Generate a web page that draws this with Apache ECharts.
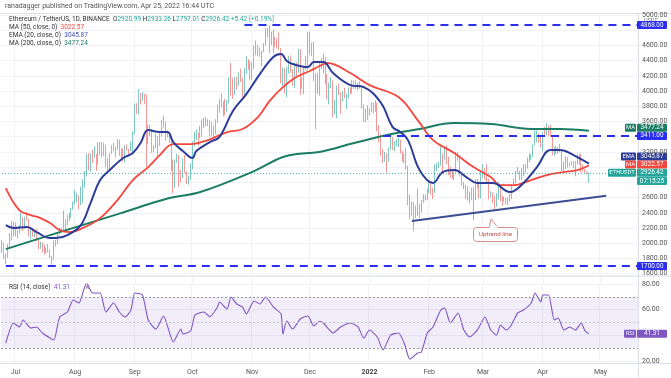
<!DOCTYPE html>
<html>
<head>
<meta charset="utf-8">
<script src="https://cdn.jsdelivr.net/npm/echarts/dist/echarts.min.js"></script>
<style>
  html, body { margin: 0; padding: 0; background: #fff; }
  #main { width: 671px; height: 378px; }
</style>
</head>
<body>
<div id="main"></div>
<script>
// ETHUSDT daily, Binance, 2021-06-24 .. 2022-04-25
const firstOpen = 1876;
const closes = [
  1989,1808,1829,1982,2085,2160,2274, // jun
  2112,2150,2226,2322,2198,2324,2315,2115,2146,2111,2140,2037,1940,1994,1918,1880,1899,1895,1820,1787,1994,2026,2123,2187,2190,2232,2300,2298,2382,2462,2536,
  2605,2609,2507,2724,2827,2890,3157,3011,3163,3140,3164,3045,3322,3265,3310,3146,3012,3017,3182,3286,3226,3243,3320,3173,3226,3104,3270,3243,3224,3226,3433,
  3833,3789,3938,3886,3952,3927,3429,3496,3427,3212,3268,3408,3285,3429,3612,3570,3397,3433,3335,2977,2757,3078,3155,2931,2926,3062,2934,2807,2849,3000,
  3307,3390,3418,3380,3517,3587,3561,3564,3578,3415,3541,3492,3606,3787,3867,3829,3847,3745,3877,4156,4055,3971,4170,4084,4219,4131,3923,4286,4417,4325,4288,
  4324,4589,4603,4531,4476,4519,4607,4810,4732,4637,4725,4666,4648,4623,4557,4215,4291,3997,4300,4437,4274,4088,4339,4270,4522,4039,4095,4297,4444,4631,
  4586,4511,4220,4120,4198,4347,4310,4433,4112,3906,4083,4137,3782,3862,4019,3960,3880,3962,3922,3939,4020,3981,4108,4047,4093,4067,4037,3797,3628,3713,3676,
  3765,3829,3761,3794,3550,3418,3193,3092,3157,3083,3238,3373,3242,3306,3330,3350,3212,3163,3095,2994,2558,2405,2540,2441,2457,2467,2422,2548,2600,2604,2688,
  2792,2680,2665,2987,3015,3056,3145,3121,3240,3070,2927,2918,2871,2931,3183,3124,2885,2784,2760,2624,2572,2638,2578,2597,2776,2782,2619,2920,
  2972,2950,2834,2617,2665,2554,2495,2575,2727,2607,2557,2566,2516,2590,2620,2772,2814,2944,2947,2860,2897,2973,3031,3109,3107,3145,3294,3331,3401,3385,3282,
  3449,3445,3523,3521,3410,3173,3234,3189,3262,3209,2981,3030,3120,3018,3041,3063,2991,3057,3103,3078,2986,2964,2938,2921,2926.42
];
const highs = [
  2045,2007,1865,1990,2135,2290,2285,
  2274,2170,2238,2400,2340,2350,2410,2318,2189,2190,2164,2185,2045,2020,2010,1978,1945,1990,1920,1835,2040,2045,2132,2205,2202,2430,2318,2375,2400,2465,2550,
  2700,2665,2630,2740,2840,2950,3175,3185,3180,3230,3275,3175,3330,3330,3330,3320,3300,3120,3185,3290,3320,3270,3370,3360,3245,3248,3287,3300,3245,3335,3470,
  3837,3840,4027,3970,3985,3970,3952,3555,3559,3505,3290,3440,3410,3450,3620,3680,3600,3485,3455,3390,3100,3100,3175,3160,2965,3115,3160,2944,2885,3050,
  3340,3465,3492,3450,3545,3625,3650,3660,3630,3620,3595,3552,3630,3822,3895,3970,3865,3900,3885,4180,4375,4170,4185,4186,4250,4294,4174,4300,4460,4420,4398,
  4380,4600,4665,4600,4573,4530,4630,4825,4830,4868,4780,4808,4710,4688,4770,4565,4310,4300,4320,4460,4470,4290,4375,4380,4555,4550,4180,4320,4460,4780,
  4780,4635,4650,4230,4240,4380,4440,4490,4440,4225,4110,4178,4140,3885,4070,4100,3985,4000,4045,3970,4050,4048,4150,4140,4140,4112,4130,4047,3825,3770,3815,
  3770,3855,3850,3880,3850,3550,3438,3242,3200,3180,3260,3413,3395,3340,3366,3390,3360,3210,3180,3255,3020,2640,2550,2545,2495,2720,2520,2570,2645,2642,2720,
  2815,2810,2730,3035,3050,3070,3270,3178,3260,3290,3135,3010,2945,2945,3200,3200,3150,2920,2805,2768,2750,2680,2730,2745,2843,2845,2808,2950,
  3040,2990,3040,2850,2685,2670,2625,2660,2810,2725,2625,2610,2600,2600,2650,2780,2850,2954,3000,2950,2990,3040,3040,3127,3180,3170,3300,3480,3480,3445,3400,
  3460,3530,3580,3545,3555,3410,3268,3280,3270,3305,3220,3075,3140,3130,3060,3080,3080,3080,3170,3175,3175,3035,2975,2948,2933.26
];
const lows = [
  1870,1795,1722,1808,1938,2035,2091,
  2090,2064,2130,2200,2160,2190,2300,2088,2050,2085,2080,2030,1918,1926,1880,1855,1863,1878,1805,1718,1776,1955,1987,2120,2147,2170,2155,2240,2290,2330,2440,
  2510,2538,2450,2500,2530,2730,2880,2960,2935,3055,3126,2950,3030,3163,3130,3145,2998,2960,2950,3175,3210,3130,3230,3148,3095,3077,3060,3217,3160,3209,3180,
  3432,3700,3690,3822,3870,3835,3000,3300,3409,3189,3198,3247,3150,3281,3405,3520,3345,3391,3320,2945,2655,2730,3056,2742,2800,2856,2925,2780,2770,2835,
  2970,3280,3360,3280,3382,3400,3510,3535,3541,3400,3405,3400,3430,3585,3715,3782,3667,3680,3730,3835,3940,3900,3950,4020,4070,4120,3940,3925,4225,4280,4150,
  4150,4290,4470,4460,4450,4330,4510,4600,4705,4500,4605,4500,4580,4560,4545,4100,4065,3970,3920,4230,4240,4070,4040,4200,4245,3950,4030,3960,4280,4280,
  4480,4460,4135,3500,3960,3940,4290,4230,4090,3890,3825,4035,3655,3695,3640,3950,3700,3863,3905,3765,3900,3955,3970,4030,4030,4010,4030,3770,3600,3585,3625,
  3680,3720,3705,3730,3470,3325,3150,3055,3071,2930,3070,3230,3226,3210,3278,3264,3180,3073,3050,2970,2500,2320,2360,2159,2330,2360,2330,2400,2530,2560,2570,
  2660,2640,2580,2660,2950,2990,3020,2910,3100,3040,2893,2860,2850,2830,2930,3080,2880,2760,2710,2580,2560,2525,2570,2300,2565,2720,2590,2586,
  2860,2835,2800,2575,2600,2530,2450,2480,2575,2550,2490,2550,2510,2500,2545,2580,2775,2790,2920,2830,2830,2880,2930,2980,3065,3095,3130,3290,3325,3320,3260,
  3215,3420,3420,3405,3400,3155,3150,3170,3175,3195,2950,2950,2975,2995,3007,3025,2990,2880,3035,3030,2930,2945,2930,2912,2797.01
];

// indicator lines (day index from 2021-06-24)
const ema20Days = [2,6,13,18,25,28,34,41,46,51,56,63,68,72,76,82,86,89,94,99,101,108,113,120,127,134,141,145,148,151,159,162,167,172,181,188,197,203,207,211,217,224,229,235,242,247,255,264,271,278,285,290,297,305];
const ema20Vals = [2239,2200,2213,2147,2068,2068,2108,2239,2528,2831,2962,3120,3186,3317,3488,3462,3462,3330,3212,3120,3212,3330,3396,3738,3961,4224,4448,4487,4395,4356,4316,4382,4382,4237,4079,4053,3843,3527,3462,3356,2962,2792,2936,2962,2857,2792,2792,2673,2792,3001,3225,3225,3159,3045.87];
const ma50Days = [2,9,15,20,25,30,35,42,51,60,68,76,82,89,98,107,117,125,133,139,146,153,160,165,169,181,191,206,216,224,235,245,254,259,266,275,283,292,299,305];
const ma50Vals = [2725,2436,2370,2331,2265,2173,2147,2200,2331,2568,2831,3001,3159,3304,3304,3356,3462,3501,3659,3869,4053,4185,4264,4329,4369,4237,4079,3922,3619,3356,3186,3001,2870,2765,2765,2831,2896,2936,2962,3022.57];
const ma200Days = [2,30,61,87,103,131,146,156,165,183,200,217,235,254,275,290,305];
const ma200Vals = [1923,2146,2390,2594,2673,2949,3133,3180,3199,3317,3422,3501,3580,3567,3501,3501,3477.24];
const rsiDays = [2,6,9,11,15,18,21,25,27,30,34,37,40,42,44,47,51,54,58,61,64,67,69,73,76,80,84,86,89,93,94,98,100,101,105,108,112,113,117,119,122,125,127,131,134,137,141,145,146,148,151,155,159,162,165,167,172,176,181,185,188,191,195,198,202,206,209,211,212,216,218,221,224,228,230,233,237,240,243,247,251,254,257,259,262,264,266,268,271,275,277,280,281,284,287,289,292,295,298,301,303,305];
const rsiVals = [34.0,49.6,46.5,51.9,45.7,46.5,41.8,37.9,36.4,54.3,58.2,67.5,65.2,73.0,80.8,73.0,73.0,58.2,65.2,58.2,54.3,59.7,73.0,71.4,51.9,44.9,55.1,47.3,34.8,44.9,41.0,43.4,55.1,56.6,58.2,54.3,62.1,66.0,60.5,69.9,64.4,62.1,56.6,66.8,64.4,69.9,62.1,56.6,41.0,51.2,44.9,52.7,55.1,47.3,51.0,49.6,41.8,46.5,49.6,46.5,37.9,44.1,38.7,28.6,40.2,41.8,34.0,24.0,21.5,26.2,27.0,41.8,46.5,59.7,61.3,49.6,57.4,44.1,38.7,44.1,54.3,44.1,40.2,48.0,44.1,46.5,51.9,57.4,59.7,65.2,73.0,66.0,71.4,71.4,51.9,53.5,44.1,46.5,44.1,49.6,43.4,41.31];

const hiddenPriceTicks = [4800, 3400, 3000, 2800];
const monthNames = ['Jan','Feb','Mar','Apr','May','Jun','Jul','Aug','Sep','Oct','Nov','Dec'];

const nDays = 331;
const dates = [];
const t0 = Date.UTC(2021, 5, 24);
for (let i = 0; i < nDays; i++) {
  dates.push(new Date(t0 + i * 86400000).toISOString().slice(0, 10));
}
const isMonthStart = (i) => dates[i].slice(8) === '01';

const candles = closes.map((c, i) => {
  const o = i ? closes[i - 1] : firstOpen;
  return [o, c, Math.min(lows[i], o, c), Math.max(highs[i], o, c)];
});
const zip = (a, b) => a.map((d, i) => [d, b[i]]);

const FONT = 'Roboto, "Noto Sans", sans-serif';
const BLUE = '#2a2ef0';
const UP = '#26a69a', DOWN = '#ef5350';

const chart = echarts.init(document.getElementById('main'));

const monthAxis = (gridIndex, showLabel) => ({
  type: 'category',
  gridIndex: gridIndex,
  data: dates,
  axisLine: { show: false },
  axisTick: { show: false, alignWithLabel: true },
  splitLine: { show: true, interval: (i) => isMonthStart(i), lineStyle: { color: '#f0f2f6' } },
  axisLabel: {
    show: showLabel,
    interval: (i) => isMonthStart(i),
    fontSize: 7, color: '#555', fontFamily: FONT, margin: 8,
    formatter: (v) => {
      const m = +v.slice(5, 7);
      return m === 1 ? '{y|' + v.slice(0, 4) + '}' : monthNames[m - 1];
    },
    rich: { y: { fontSize: 7, fontWeight: 'bold', color: '#444', fontFamily: FONT } }
  }
});

chart.setOption({
  animation: false,
  grid: [
    { left: 1, right: 33, top: 15, height: 258.7 },
    { left: 1, right: 33, top: 284, height: 77 }
  ],
  xAxis: [monthAxis(0, false), monthAxis(1, true)],
  yAxis: [
    {
      type: 'value', gridIndex: 0, position: 'right', min: 1600, max: 5000, interval: 200,
      axisLine: { show: false }, axisTick: { show: false },
      splitLine: { lineStyle: { color: '#f0f2f6' } },
      axisLabel: {
        fontSize: 7, color: '#555', fontFamily: FONT, margin: 4,
        formatter: (v) => hiddenPriceTicks.indexOf(v) < 0 ? v.toFixed(2) : ''
      }
    },
    {
      type: 'value', gridIndex: 1, position: 'right', min: 20, max: 80, interval: 20,
      axisLine: { show: false }, axisTick: { show: false },
      splitLine: { lineStyle: { color: '#f0f2f6' } },
      axisLabel: {
        fontSize: 7, color: '#555', fontFamily: FONT, margin: 4,
        formatter: (v) => v !== 40 ? v.toFixed(2) : ''
      }
    }
  ],
  series: [
    {
      type: 'candlestick', xAxisIndex: 0, yAxisIndex: 0,
      data: candles, barWidth: 1,
      itemStyle: { color: UP, color0: DOWN, borderColor: UP, borderColor0: DOWN, borderWidth: 0.6 },
      markLine: {
        silent: true, symbol: ['none', 'none'], label: { show: false },
        data: [
          [{ coord: [0, 2926.42], lineStyle: { color: UP, width: 1, type: [1, 2], opacity: 0.8 } }, { coord: [nDays - 1, 2926.42] }],
          [{ coord: [126, 4868], lineStyle: { color: BLUE, width: 2, type: [8, 6] } }, { coord: [nDays - 1, 4868] }],
          [{ coord: [198, 3411], lineStyle: { color: BLUE, width: 2, type: [8, 6] } }, { coord: [nDays - 1, 3411] }],
          [{ coord: [2, 1700], lineStyle: { color: BLUE, width: 2, type: [8, 6] } }, { coord: [nDays - 1, 1700] }],
          [{ coord: [213, 2292], lineStyle: { color: '#3c4d94', width: 2, type: 'solid' } }, { coord: [314, 2624] }]
        ]
      }
    },
    { type: 'line', name: 'MA200', xAxisIndex: 0, yAxisIndex: 0, data: zip(ma200Days, ma200Vals), smooth: 0.4, showSymbol: false, lineStyle: { color: '#1b7d63', width: 2 } },
    { type: 'line', name: 'MA50', xAxisIndex: 0, yAxisIndex: 0, data: zip(ma50Days, ma50Vals), smooth: 0.4, showSymbol: false, lineStyle: { color: '#f4473d', width: 1.8 } },
    { type: 'line', name: 'EMA20', xAxisIndex: 0, yAxisIndex: 0, data: zip(ema20Days, ema20Vals), smooth: 0.4, showSymbol: false, lineStyle: { color: '#2c3c98', width: 2 } },
    {
      type: 'line', name: 'RSI', xAxisIndex: 1, yAxisIndex: 1, data: zip(rsiDays, rsiVals),
      smooth: 0.2, showSymbol: false, lineStyle: { color: '#7e57c2', width: 1.1 },
      markArea: { silent: true, itemStyle: { color: 'rgba(126,87,194,0.1)' }, data: [[{ yAxis: 30 }, { yAxis: 70 }]] },
      markLine: {
        silent: true, symbol: ['none', 'none'], label: { show: false },
        lineStyle: { color: '#9a9ca4', width: 1, type: [2, 2] },
        data: [{ yAxis: 70 }, { yAxis: 50, lineStyle: { color: '#c4c5cc' } }, { yAxis: 30 }]
      }
    }
  ]
});

// right-scale boxes and text overlays
const yPrice = (v) => chart.convertToPixel({ yAxisIndex: 0 }, v);
const yRsi = (v) => chart.convertToPixel({ yAxisIndex: 1 }, v);
const g = [];
const txt = (x, y, text, fill, size, extra) => g.push(Object.assign({
  type: 'text', x: x, y: y, silent: true,
  style: Object.assign({ text: text, fill: fill, font: size + 'px ' + FONT, textVerticalAlign: 'middle', verticalAlign: 'middle' }, extra || {})
}));
function box(y, value, bg, tag, tagW) {
  g.push({ type: 'rect', shape: { x: 637, y: y - 4, width: 30, height: 8, r: 1 }, style: { fill: bg } });
  txt(652, y, value, '#fff', 6.3, { textAlign: 'center', align: 'center' });
  if (tag) {
    g.push({ type: 'rect', shape: { x: 636 - tagW, y: y - 4, width: tagW, height: 8, r: 1 }, style: { fill: bg } });
    txt(636 - tagW / 2, y, tag, '#fff', 5.8, { textAlign: 'center', align: 'center' });
  }
}

// frame lines; month gridlines reach over the whole lower pane
const line = (x1, y1, x2, y2, c) => g.push({ type: 'line', silent: true, shape: { x1, y1, x2, y2 }, style: { stroke: c, lineWidth: 1 } });
dates.forEach((d, i) => {
  if (!isMonthStart(i)) return;
  const x = Math.round(chart.convertToPixel({ xAxisIndex: 1 }, d)) + 0.5;
  line(x, 276.5, x, 284, '#f0f2f6');
  line(x, 361, x, 363, '#f0f2f6');
});
line(0, 13.5, 671, 13.5, '#dcdfe6');
line(638.5, 13.5, 638.5, 378, '#dcdfe6');
line(0, 276, 671, 276, '#d6d9e0');
line(0, 363.5, 671, 363.5, '#dcdfe6');

// stack the price-scale boxes so they don't overlap
const yPriceBox = yPrice(2926.42);
const yMa50Box = Math.min(yPrice(3022.57), yPriceBox - 8.2);
const yEmaBox = Math.min(yPrice(3045.87), yMa50Box - 8.2);
const y3411 = yPrice(3411);
const yMa200Box = Math.min(yPrice(3477.24), y3411 - 8.2);

txt(644, 20.5, 'USDT', '#777', 5.5);
box(yPrice(4868), '4868.00', BLUE);
box(yMa200Box, '3477.24', '#1b7d63', 'MA', 11);
box(y3411, '3411.00', BLUE);
box(yEmaBox, '3045.87', '#2c3c98', 'EMA', 15);
box(yMa50Box, '3022.57', '#f4473d', 'MA', 11);
box(yPriceBox, '2926.42', UP, 'ETHUSDT', 28);
box(yPriceBox + 8.2, '07:15:25', UP);
box(yPrice(1700), '1700.00', BLUE);
box(yRsi(41.31), '41.31', '#7e57c2', 'RSI', 12);

// header and legends
txt(5, 6, 'ranadagger published on TradingView.com, Apr 25, 2022 16:44 UTC', '#555', 7);
const LS = 6.5;
const rich = {
  t: { fill: '#333', color: '#333', fontSize: LS, fontFamily: FONT },
  v: { fill: UP, color: UP, fontSize: LS, fontFamily: FONT },
  r: { fill: '#f4473d', color: '#f4473d', fontSize: LS, fontFamily: FONT },
  b: { fill: '#3d4eb8', color: '#3d4eb8', fontSize: LS, fontFamily: FONT },
  gr: { fill: '#1b7d63', color: '#1b7d63', fontSize: LS, fontFamily: FONT },
  p: { fill: '#7e57c2', color: '#7e57c2', fontSize: LS, fontFamily: FONT }
};
txt(9, 19, '{t|Ethereum / TetherUS, 1D, BINANCE  O}{v|2920.99}{t| H}{v|2933.26}{t| L}{v|2797.01}{t| C}{v|2926.42 +5.42 (+0.19%)}', '#333', LS, { rich: rich });
txt(9, 27.5, '{t|MA (50, close, 0)  }{r|3022.57}', '#333', LS, { rich: rich });
txt(9, 35.5, '{t|EMA (20, close, 0)  }{b|3045.87}', '#333', LS, { rich: rich });
txt(9, 43.5, '{t|MA (200, close, 0)  }{gr|3477.24}', '#333', LS, { rich: rich });
txt(9, 287, '{t|RSI (14, close)  }{p|41.31}', '#333', LS, { rich: rich });
txt(87, 287, '\u2227', '#555', 6, { textAlign: 'center', align: 'center' });

// "Uptrend line" callout
g.push({ type: 'polygon', silent: true, shape: { points: [[489, 227.5], [491, 219], [498, 227.5]] }, style: { fill: '#fff', stroke: '#d98c8c', lineWidth: 1 } });
g.push({ type: 'rect', silent: true, shape: { x: 473.5, y: 227.5, width: 44, height: 14, r: 3 }, style: { fill: '#fff', stroke: '#d98c8c', lineWidth: 1 } });
g.push({ type: 'rect', silent: true, shape: { x: 489.5, y: 226, width: 8, height: 3 }, style: { fill: '#fff' } });
txt(495.5, 234.5, 'Uptrend line', '#c0504d', 6.2, { textAlign: 'center', align: 'center' });

chart.setOption({ graphic: g });
</script>
</body>
</html>
